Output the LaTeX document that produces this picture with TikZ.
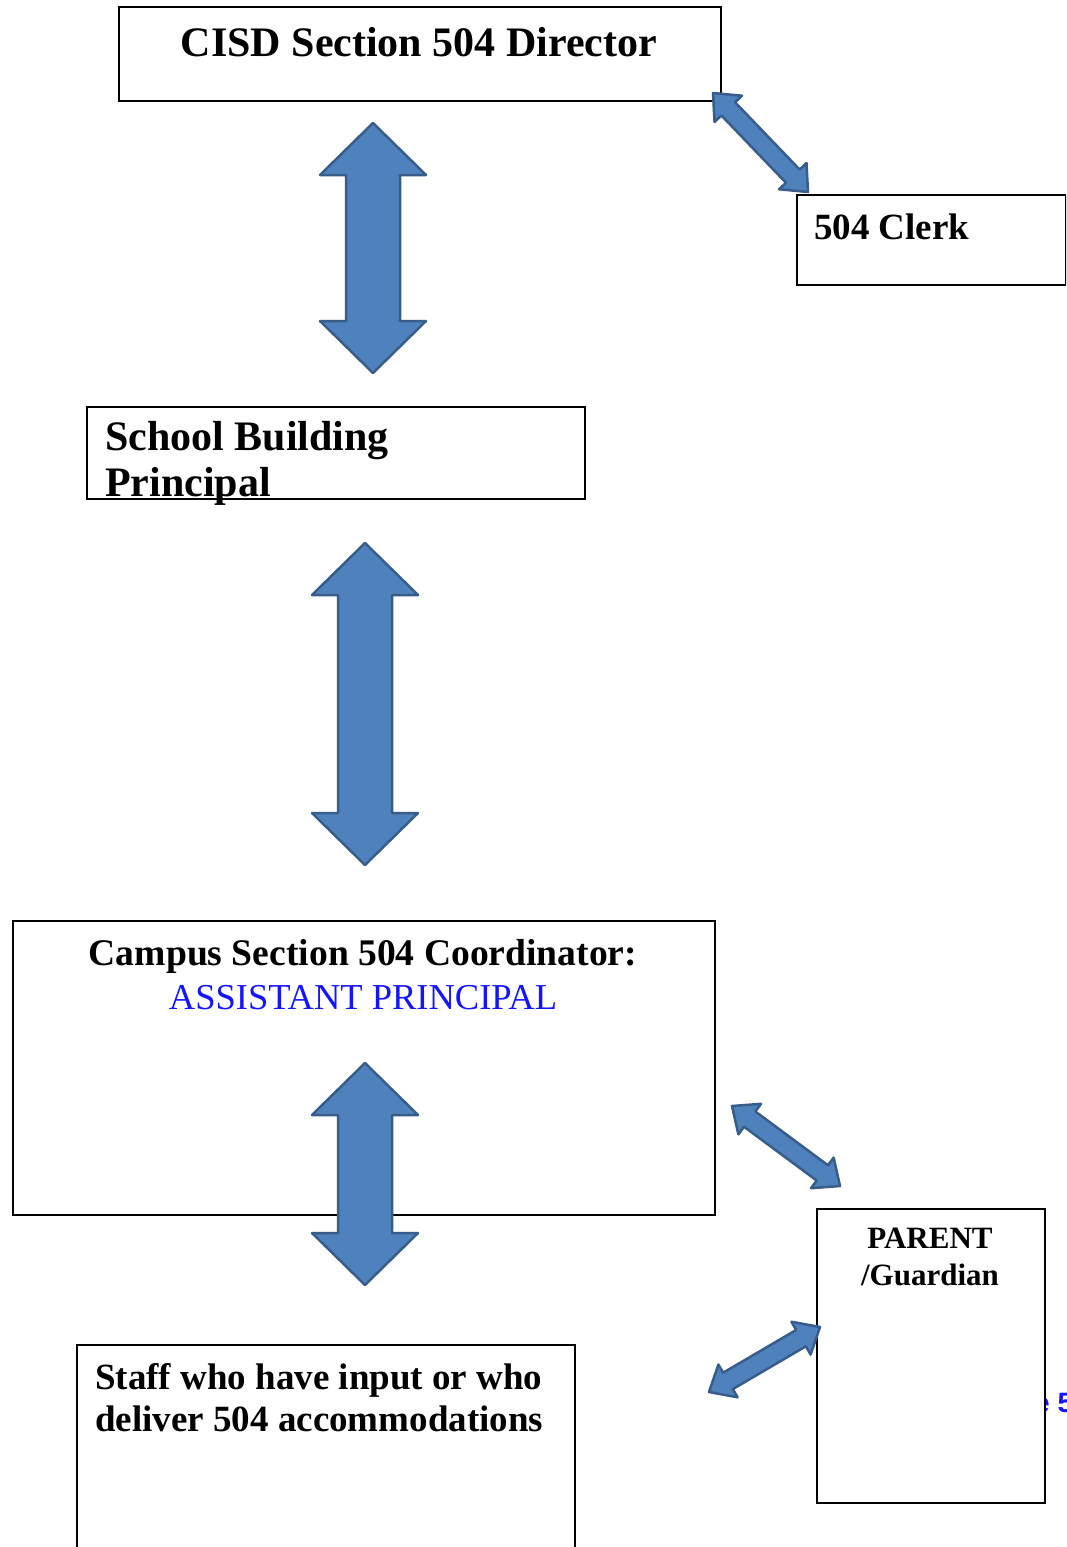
\documentclass[tikz,border=0pt]{standalone}
\usepackage{fontspec}
\setmainfont{Liberation Serif}
\newfontfamily\sanstext{Liberation Sans}
\usetikzlibrary{calc}
\definecolor{arrfill}{RGB}{79,129,189}
\definecolor{arrline}{RGB}{56,93,138}
\definecolor{apblue}{RGB}{20,20,255}
\newcommand\blockarrow[6][]{%
  \coordinate (ba1) at ($(#2)!#6!(#3)$);
  \coordinate (ba2) at ($(#3)!#6!(#2)$);
  \draw[blockarr,#1] (#2) -- ($(ba1)!#5!90:(#2)$) -- ($(ba1)!#4!90:(#2)$)
    -- ($(ba2)!#4!-90:(#3)$) -- ($(ba2)!#5!-90:(#3)$) -- (#3)
    -- ($(ba2)!#5!90:(#3)$) -- ($(ba2)!#4!90:(#3)$)
    -- ($(ba1)!#4!-90:(#2)$) -- ($(ba1)!#5!-90:(#2)$) -- cycle;}
\begin{document}
\begin{tikzpicture}[x=1pt,y=-1pt,
  box/.style={draw=black, line width=1.5pt, fill=white, inner sep=0pt, anchor=north west},
  lbl/.style={inner sep=0pt, text=black},
  blockarr/.style={fill=arrfill, draw=arrline, line width=2.5pt, line join=round}]
\useasboundingbox (0,0) rectangle (1066,1547);
\clip (0,0) rectangle (1066,1547);
\fill[white] (0,0) rectangle (1066,1547);

% hidden blue text behind parent box
\node[lbl, text=apblue, font=\sanstext\bfseries\fontsize{28}{32}\selectfont, anchor=base west] (hidden) at (1034,1412) {e 5};

% boxes
\node[box, minimum width=602pt, minimum height=94pt] (director) at (118,6) {};
\node[box, minimum width=269pt, minimum height=90pt] (clerk) at (796,194) {};
\node[box, minimum width=498pt, minimum height=92pt] (principal) at (86,406) {};
\node[box, minimum width=702pt, minimum height=294pt] (coord) at (12,920) {};
\node[box, minimum width=228pt, minimum height=294pt] (parent) at (816,1208) {};
\node[box, minimum width=498pt, minimum height=230pt] (staff) at (76,1344) {};

% texts
\node[lbl, font=\bfseries\fontsize{42}{46}\selectfont, anchor=base] (dirtext) at (419,56) {CISD Section 504 Director};
\node[lbl, font=\bfseries\fontsize{37}{40}\selectfont, anchor=base west] (clerktext) at (814,239) {504 Clerk};
\node[lbl, font=\bfseries\fontsize{42}{46}\selectfont, anchor=base west] (printext1) at (105,450) {School Building};
\node[lbl, font=\bfseries\fontsize{42}{46}\selectfont, anchor=base west] (printext2) at (105,496) {Principal};
\node[lbl, font=\bfseries\fontsize{37.6}{40}\selectfont, anchor=base] (coordtext) at (363,965) {Campus Section 504 Coordinator:};
\node[lbl, text=apblue, font=\fontsize{36.5}{40}\selectfont, anchor=base] (aptext) at (363,1009) {ASSISTANT PRINCIPAL};
\node[lbl, font=\bfseries\fontsize{37}{40}\selectfont, anchor=base west] (stafftext1) at (95,1389) {Staff who have input or who};
\node[lbl, font=\bfseries\fontsize{37}{40}\selectfont, anchor=base west] (stafftext2) at (95,1431) {deliver 504 accommodations};
\node[lbl, font=\bfseries\fontsize{31}{34}\selectfont, anchor=base] (partext1) at (930,1248) {PARENT};
\node[lbl, font=\bfseries\fontsize{31}{34}\selectfont, anchor=base] (partext2) at (930,1285) {/Guardian};

% arrow end points
\coordinate (a1t) at (373,123);
\coordinate (a1b) at (373,373);
\coordinate (a2t) at (365,543);
\coordinate (a2b) at (365,865);
\coordinate (a3t) at (365,1063);
\coordinate (a3b) at (365,1285);
\coordinate (ct) at (713,93);
\coordinate (cb) at (808,192);
\coordinate (p1t) at (732,1106);
\coordinate (p1b) at (840,1186);
\coordinate (p2r) at (820,1327);
\coordinate (p2l) at (709,1392);

\blockarrow{a1t}{a1b}{27pt}{53pt}{52pt}
\blockarrow{a2t}{a2b}{27pt}{53pt}{52pt}
\blockarrow{a3t}{a3b}{27pt}{53pt}{52pt}
\blockarrow{ct}{cb}{9.5pt}{19pt}{22pt}
\blockarrow{p1t}{p1b}{9.5pt}{19pt}{22pt}
\blockarrow{p2r}{p2l}{9.5pt}{19pt}{22pt}
\end{tikzpicture}
\end{document}
